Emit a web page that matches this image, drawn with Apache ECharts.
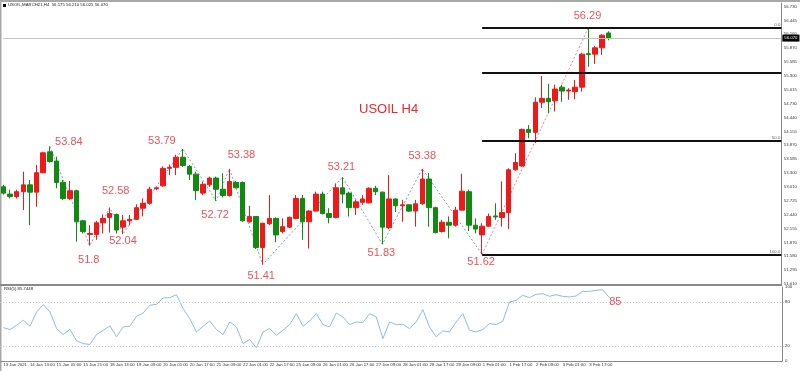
<!DOCTYPE html>
<html>
<head>
<meta charset="utf-8">
<script src="https://cdn.jsdelivr.net/npm/echarts@6/dist/echarts.min.js"></script>
<style>
html,body{margin:0;padding:0;background:#fff;}
#chart{width:800px;height:371px;}
</style>
</head>
<body>
<div id="chart"></div>
<script>
// ---------- DATA ----------
const timeTicks = ['13 Jan 2021','14 Jan 13:00','15 Jan 05:00','15 Jan 21:00','18 Jan 13:00','19 Jan 09:00','20 Jan 01:00','20 Jan 17:00','21 Jan 09:00','22 Jan 01:00','22 Jan 17:00','25 Jan 09:00','26 Jan 01:00','26 Jan 17:00','27 Jan 09:00','28 Jan 01:00','28 Jan 17:00','29 Jan 09:00','1 Feb 01:00','1 Feb 17:00','2 Feb 09:00','3 Feb 01:00','3 Feb 17:00'];
const priceTicks = ['51.010','51.295','51.580','51.870','52.155','52.440','52.725','53.010','53.300','53.585','53.870','54.155','54.440','54.730','55.015','55.300','55.585','55.870','56.160','56.445','56.730'];
const rsiTicks = [0, 20, 80, 100];

const opens = [53.01,52.86,52.81,52.91,53.05,52.90,53.30,53.73,53.54,53.10,
  52.77,52.93,52.31,52.03,52.03,52.27,52.38,52.44,52.18,52.31,
  52.34,52.57,52.67,52.97,53.03,53.39,53.41,53.62,53.43,53.27,
  52.88,53.05,53.19,52.96,52.83,53.10,53.10,52.29,52.40,51.76,
  52.25,52.36,52.09,52.18,52.36,52.77,52.29,52.51,52.86,52.46,
  52.38,52.99,52.88,52.58,52.69,52.68,52.98,52.90,52.17,52.76,
  52.62,52.64,52.51,52.66,53.17,52.58,52.09,52.28,52.22,52.53,
  52.91,52.22,52.02,52.20,52.41,52.38,52.48,53.36,53.44,54.19,
  54.13,54.75,54.83,54.78,55.06,54.98,54.97,55.06,55.75,55.74,
  55.87,56.175];
const closes = [52.88,52.81,52.91,53.05,52.90,53.30,53.71,53.53,53.10,52.77,
  52.93,52.29,52.09,52.05,52.27,52.36,52.46,52.12,52.31,52.34,
  52.58,52.67,52.96,52.99,53.39,53.41,53.62,53.45,53.27,52.93,
  53.06,53.19,52.96,52.83,53.12,52.99,52.31,52.40,51.76,52.26,
  52.36,52.02,52.19,52.38,52.77,52.29,52.51,52.86,52.46,52.38,
  52.99,52.86,52.58,52.70,52.76,52.98,52.91,52.18,52.76,52.62,
  52.64,52.51,52.66,53.17,52.58,52.07,52.28,52.22,52.53,52.92,
  52.22,52.14,52.20,52.40,52.39,52.48,53.36,53.51,54.19,54.13,
  54.75,54.83,54.76,55.02,54.98,55.00,55.06,55.74,55.73,55.87,
  56.13,56.07];
const lows = [52.85,52.77,52.77,52.53,52.22,52.60,53.29,53.51,52.98,52.74,
  52.74,51.88,52.05,51.80,51.92,52.05,52.07,52.05,52.04,52.22,
  52.33,52.40,52.64,52.94,53.01,53.25,53.25,53.42,53.15,52.74,
  52.84,53.01,52.72,52.79,52.81,52.98,52.29,52.27,51.73,51.41,
  52.22,51.87,52.05,52.16,52.34,51.92,51.74,52.50,52.44,52.26,
  52.36,52.67,52.40,52.43,52.64,52.67,52.84,51.83,52.14,52.49,
  52.29,52.49,52.19,52.64,52.19,52.05,52.07,51.95,52.19,52.53,
  52.10,52.05,51.62,52.19,52.33,52.19,52.14,53.34,53.42,54.01,
  53.91,54.63,54.52,54.56,54.76,54.80,54.81,54.97,55.48,55.54,
  55.72,56.025];
const highs = [53.05,52.95,52.95,53.32,53.15,53.46,53.73,53.84,53.63,53.15,
  53.13,52.95,52.33,52.22,52.31,52.44,52.58,52.46,52.43,52.43,
  52.65,52.77,53.01,53.01,53.43,53.47,53.67,53.79,53.46,53.32,
  53.12,53.22,53.22,53.29,53.38,53.13,53.12,52.62,52.40,52.27,
  52.84,52.38,52.36,52.40,52.84,52.84,52.53,52.91,52.91,52.57,
  53.08,53.21,52.91,52.74,52.84,53.00,53.03,52.91,53.25,52.77,
  52.74,52.65,52.74,53.38,53.29,52.60,52.33,52.40,52.60,53.28,
  52.95,52.36,52.26,52.46,52.67,53.12,53.39,53.70,54.21,54.28,
  54.85,55.29,55.13,55.11,55.11,55.04,55.21,55.77,56.29,55.91,
  56.15,56.21];
const rsi = [45.2,42.5,48.3,55.0,47.0,66.3,76.2,66.3,43.8,35.7,
  42.9,27.2,23.6,22.3,35.7,41.6,47.4,32.6,46.1,47.0,
  60.4,64.9,75.3,76.6,85.1,85.6,89.6,70.8,57.3,39.3,
  47.0,54.2,42.5,35.7,52.8,46.1,23.6,29.0,17.8,39.3,
  43.8,34.8,41.6,49.2,64.0,47.0,54.2,64.0,49.2,46.1,
  64.9,59.5,49.2,52.8,51.9,64.0,59.5,30.3,52.8,49.2,
  49.7,43.8,52.8,69.4,46.1,32.6,40.7,39.3,52.8,64.0,
  41.6,39.3,42.5,50.6,49.2,53.7,79.7,82.0,88.7,85.6,
  90.1,91.0,87.4,89.6,87.4,86.5,87.8,94.1,94.1,95.5,
  96.4,85.74];

// zigzag pivots
const zzIdx = [7,13,16,18,27,32,34,39,51,57,63,72];
const zzVal = [53.84,51.80,52.58,52.04,53.79,52.72,53.38,51.41,53.21,51.83,53.38,51.62];
const upIdx = [72,88];
const upVal = [51.62,56.29];
// swing annotations
const annIdx = [7,16,13,18,27,34,32,39,51,57,63,72,88];
const annVal = [53.84,52.58,51.80,52.04,53.79,53.38,52.72,51.41,53.21,51.83,53.38,51.62,56.29];
// fibonacci levels
const fibVals = [56.29,55.35,53.955,51.62];
const fibText = ['0.0','','50.0','100.0'];
const fibStart = 72;
const lastPrice = 56.07;
const lastPriceText = '56.070';
const rsiLast = 85.74;
const rsiLastText = '85';
const headerText = 'USOIL,MARCH21,H4  56.175 56.210 56.025 56.070';
const rsiHeaderText = 'RSI(5) 85.7448';
const titleText = 'USOIL H4';

// ---------- STYLE / LAYOUT ----------
const NCAT = 118;
const cats = Array.from({length: NCAT}, (_, i) => String(i));
const annOffset = [[19,-4],[6,-17],[-1,14],[0,7],[-21,-8],[12,-14],[-1,14],[-1.5,11.5],[-1,-10],[-1,9],[0,-13],[-1,8],[-1,-11]];
const RED = '#f01818', GREEN = '#108a10', TXTRED = '#e8262e';
const FONT = 'Liberation Sans, Arial, sans-serif';
const SMALL = 4.3;
const Y0 = 51.01, YSTEP = 0.2855, YMAX = 56.792;

const candleData = opens.map((o, i) => [o, closes[i], lows[i], highs[i]]);
const zzData = zzIdx.map((x, i) => [x, zzVal[i]]);
const upData = upIdx.map((x, i) => [x, upVal[i]]);
const annData = annIdx.map((x, i) => ({value: [x, annVal[i]], label: {offset: annOffset[i]}}));

const fibLines = fibVals.map((v, i) => [
  {coord: [fibStart, v], label: {formatter: fibText[i]}},
  {coord: [NCAT - 1, v]}
]);

const chart = echarts.init(document.getElementById('chart'), null, {renderer: 'canvas'});
const option = {
  animation: false,
  backgroundColor: '#fff',
  textStyle: {fontFamily: FONT},
  title: {
    text: titleText, left: 354, top: 98,
    textStyle: {color: TXTRED, fontSize: 13, fontWeight: 'normal', fontFamily: FONT}
  },
  grid: [
    {left: -0.4, top: 3, width: 786.2, height: 281},
    {left: -0.4, top: 287, width: 786.2, height: 74}
  ],
  xAxis: [
    {type: 'category', gridIndex: 0, data: cats, boundaryGap: true,
     axisLine: {show: false}, axisTick: {show: false}, axisLabel: {show: false}, splitLine: {show: false}},
    {type: 'category', gridIndex: 1, data: cats, boundaryGap: true,
     axisLine: {show: false}, axisTick: {show: false}, splitLine: {show: false},
     axisLabel: {show: true, interval: 0, fontSize: SMALL, color: '#333', align: 'left', margin: 1.5,
       formatter: (v, idx) => (idx % 4 === 0 && timeTicks[idx / 4]) ? timeTicks[idx / 4] : ''}}
  ],
  yAxis: [
    {type: 'value', gridIndex: 0, position: 'right', offset: -3.8, min: Y0, max: YMAX, interval: YSTEP,
     axisLine: {show: true, lineStyle: {color: '#888', width: 1}}, axisTick: {show: false}, splitLine: {show: false},
     axisLabel: {fontSize: SMALL, color: '#333', margin: 3,
       formatter: v => { const k = Math.round((v - Y0) / YSTEP); return Math.abs(v - (Y0 + k * YSTEP)) > 0.02 ? '' : (priceTicks[k] || ''); }}},
    {type: 'value', gridIndex: 1, position: 'right', offset: -3.8, min: 0, max: 100, interval: 20,
     axisLine: {show: true, lineStyle: {color: '#888', width: 1}}, axisTick: {show: false}, splitLine: {show: false},
     axisLabel: {fontSize: SMALL, color: '#333', margin: 3,
       formatter: v => rsiTicks.indexOf(v) >= 0 ? String(v) : ''}}
  ],
  series: [
    {
      type: 'candlestick', xAxisIndex: 0, yAxisIndex: 0, data: candleData, barWidth: 5,
      itemStyle: {color: RED, color0: GREEN, borderColor: RED, borderColor0: GREEN, borderWidth: 1},
      markLine: {
        silent: true, symbol: 'none', animation: false,
        data: [
          [{coord: [0, lastPrice], lineStyle: {color: '#c4c4c4', width: 1, type: 'solid'},
            label: {show: true, position: 'end', formatter: lastPriceText, backgroundColor: '#000', color: '#fff',
                    fontSize: SMALL, padding: [1.5, 2], distance: 1}},
           {coord: [NCAT - 1, lastPrice]}]
        ].concat(fibLines),
        lineStyle: {color: '#111', width: 2, type: 'solid'},
        label: {show: true, position: 'insideEndTop', fontSize: SMALL, color: '#555', distance: 1}
      }
    },
    {
      type: 'line', xAxisIndex: 0, yAxisIndex: 0, data: zzData, symbol: 'none', z: 1,
      lineStyle: {color: '#8a98bc', width: 1, type: [2, 2]}
    },
    {
      type: 'line', xAxisIndex: 0, yAxisIndex: 0, data: upData, symbol: 'none', z: 1,
      lineStyle: {color: '#e88888', width: 1, type: [2, 2]}
    },
    {
      type: 'scatter', xAxisIndex: 0, yAxisIndex: 0, data: annData, symbolSize: 1,
      itemStyle: {color: 'rgba(0,0,0,0)'},
      label: {show: true, position: 'inside', color: TXTRED, fontSize: 11, fontFamily: FONT,
              formatter: p => String(p.value[1])}
    },
    {
      type: 'line', xAxisIndex: 1, yAxisIndex: 1, data: rsi, symbol: 'none',
      lineStyle: {color: '#8ebedf', width: 1},
      markLine: {
        silent: true, symbol: 'none', animation: false,
        lineStyle: {color: '#c8c8c8', width: 1, type: [1, 2]}, label: {show: false},
        data: [{yAxis: 80}, {yAxis: 20}]
      }
    },
    {
      type: 'scatter', xAxisIndex: 1, yAxisIndex: 1, data: [[91, rsiLast]], symbolSize: 1,
      itemStyle: {color: 'rgba(0,0,0,0)'},
      label: {show: true, position: 'inside', offset: [6, 4], color: TXTRED, fontSize: 11, fontFamily: FONT,
              formatter: rsiLastText}
    }
  ],
  graphic: [
    {type: 'rect', shape: {x: 0, y: 0, width: 800, height: 2}, style: {fill: '#a8a8a8'}, silent: true},
    {type: 'rect', shape: {x: 0, y: 0, width: 1.5, height: 371}, style: {fill: '#a8a8a8'}, silent: true},
    {type: 'line', shape: {x1: 0, y1: 285, x2: 782, y2: 285}, style: {stroke: '#8a8a8a', lineWidth: 2}, silent: true},
    {type: 'line', shape: {x1: 0, y1: 361.5, x2: 782, y2: 361.5}, style: {stroke: '#8a8a8a', lineWidth: 1}, silent: true},
    {type: 'rect', shape: {x: 3, y: 4, width: 3, height: 3}, style: {fill: '#000'}, silent: true},
    {type: 'text', left: 8, top: 3, style: {text: headerText, fontSize: SMALL, fill: '#222', fontFamily: FONT}, silent: true},
    {type: 'text', left: 4, top: 287, style: {text: rsiHeaderText, fontSize: SMALL, fill: '#222', fontFamily: FONT}, silent: true}
  ]
};
chart.setOption(option);
</script>
</body>
</html>
